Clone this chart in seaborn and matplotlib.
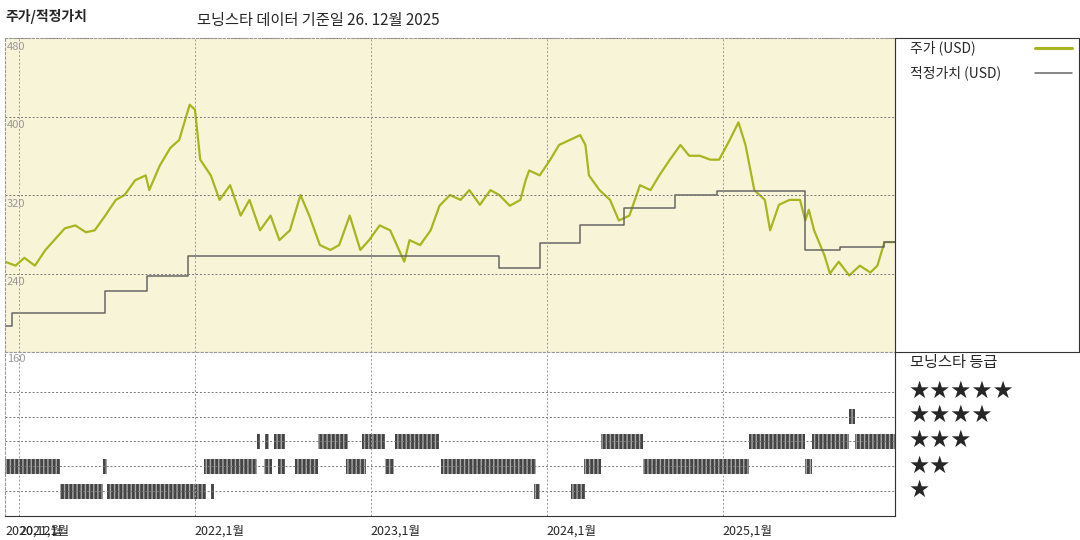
import numpy as np
import pandas as pd
import seaborn as sns
import matplotlib.pyplot as plt
from matplotlib.lines import Line2D

sns.set_style('white')
plt.rcParams['font.family'] = ['Noto Sans CJK KR', 'DejaVu Sans']

# price (USD), time as decimal year
price_t = [2020.92, 2020.98, 2021.03, 2021.09, 2021.15, 2021.20, 2021.26, 2021.32, 2021.38, 2021.43,
           2021.49, 2021.55, 2021.60, 2021.66, 2021.72, 2021.74, 2021.80, 2021.86, 2021.91, 2021.97,
           2022.00, 2022.03, 2022.09, 2022.14, 2022.20, 2022.26, 2022.31, 2022.37, 2022.43, 2022.48,
           2022.54, 2022.60, 2022.65, 2022.71, 2022.77, 2022.82, 2022.88, 2022.94, 2022.99, 2023.05,
           2023.11, 2023.16, 2023.19, 2023.22, 2023.28, 2023.34, 2023.39, 2023.45, 2023.51, 2023.56,
           2023.62, 2023.68, 2023.73, 2023.79, 2023.85, 2023.88, 2023.90, 2023.96, 2024.02, 2024.07,
           2024.13, 2024.19, 2024.22, 2024.24, 2024.30, 2024.36, 2024.41, 2024.47, 2024.53, 2024.59,
           2024.64, 2024.70, 2024.76, 2024.81, 2024.87, 2024.93, 2024.98, 2025.04, 2025.09, 2025.13,
           2025.18, 2025.24, 2025.27, 2025.32, 2025.38, 2025.44, 2025.47, 2025.49, 2025.52, 2025.58,
           2025.61, 2025.66, 2025.72, 2025.78, 2025.84, 2025.88, 2025.92, 2025.98]
price = [252, 248, 256, 248, 264, 274, 286, 289, 282, 284,
         299, 315, 320, 335, 340, 325, 350, 368, 376, 412,
         407, 356, 340, 315, 330, 299, 315, 284, 299, 274,
         284, 320, 299, 269, 264, 269, 299, 264, 274, 289,
         284, 264, 252, 274, 269, 284, 309, 320, 315, 325,
         310, 325, 320, 309, 315, 335, 345, 340, 356, 371,
         376, 381, 371, 340, 325, 315, 294, 299, 330, 325,
         340, 356, 371, 360, 360, 356, 356, 376, 394, 371,
         325, 315, 284, 310, 315, 315, 294, 305, 284, 258,
         240, 252, 238, 248, 241, 248, 272, 272]

# fair value steps
fv_t = [2020.92, 2020.96, 2021.49, 2021.73, 2021.96, 2023.73, 2023.96, 2024.19, 2024.44,
        2024.73, 2024.97, 2025.47, 2025.67, 2025.92, 2025.98]
fv = [186, 200, 222, 237, 258, 246, 271, 289, 307, 320, 324, 264, 267, 272, 272]

# morningstar rating periods (start, end) per star level
rating_periods = {
    1: [(2021.23, 2021.48), (2021.50, 2022.06), (2022.09, 2022.11), (2023.93, 2023.96), (2024.14, 2024.22)],
    2: [(2020.92, 2021.23), (2021.48, 2021.50), (2022.05, 2022.35), (2022.39, 2022.44), (2022.47, 2022.51),
        (2022.57, 2022.70), (2022.86, 2022.97), (2023.08, 2023.13), (2023.40, 2023.94), (2024.21, 2024.31),
        (2024.55, 2025.15), (2025.47, 2025.51)],
    3: [(2022.35, 2022.37), (2022.40, 2022.42), (2022.45, 2022.51), (2022.70, 2022.87), (2022.95, 2023.08),
        (2023.14, 2023.39), (2024.31, 2024.55), (2025.15, 2025.47), (2025.51, 2025.72), (2025.75, 2025.98)],
    4: [(2025.72, 2025.75)],
}
year_ticks = [2021, 2022, 2023, 2024, 2025]
tick_labels = ['2021,1월', '2022,1월', '2023,1월', '2024,1월', '2025,1월']
price_ticks = [480, 400, 320, 240]

W, H = 1080, 540
fig = plt.figure(figsize=(10.8, 5.4), dpi=100)
x0, x1 = 5, 895
ax1 = fig.add_axes([x0 / W, (H - 352) / H, (x1 - x0) / W, 314 / H])
ax2 = fig.add_axes([x0 / W, (H - 516) / H, (x1 - x0) / W, 164 / H])
xlim = (2020.92, 2025.98)

price_df = pd.DataFrame({'t': price_t, 'price': price})
ax1.set_facecolor('#f8f4d8')
sns.lineplot(data=price_df, x='t', y='price', color='#a8b51e', lw=1.6, ax=ax1)
ax1.step(fv_t, fv, where='post', color='#666666', lw=1.1)
ax1.set_xlim(xlim)
ax1.set_ylim(160, 480)
for v in price_ticks:
    ax1.axhline(v, color='#777777', ls=(0, (2, 2)), lw=0.7)
    ax1.text(xlim[0] + 0.01, v - 4, str(v), color='#999999', fontsize=8, va='top')

ax2.set_xlim(xlim)
ax2.set_ylim(0, 6.6)
for s in range(1, 6):
    ax2.axhline(s, color='#777777', ls=(0, (2, 2)), lw=0.7)
for s, periods in rating_periods.items():
    ax2.broken_barh([(a, b - a) for a, b in periods], (s - 0.3, 0.6),
                    facecolors='#444444', edgecolor='#aaaaaa', hatch='||||', lw=0)
ax2.text(xlim[0] + 0.01, 6.5, '160', color='#999999', fontsize=8, va='top')

for ax in (ax1, ax2):
    for y in year_ticks:
        ax.axvline(y, color='#999999', ls=(0, (2, 2)), lw=0.7)
    ax.set_xticks([])
    ax.set_yticks([])
    ax.set_xlabel('')
    ax.set_ylabel('')
    for sp in ax.spines.values():
        sp.set_color('#999999')
        sp.set_linewidth(0.8)
        sp.set_linestyle((0, (2, 2)))
ax2.spines['bottom'].set_linestyle('-')
ax2.spines['bottom'].set_color('#333333')

ax2.text(xlim[0], -0.35, '2020,12월', fontsize=9, va='top', transform=ax2.transData)
for y, lab in zip(year_ticks, tick_labels):
    ax2.text(y, -0.35, lab, fontsize=9, va='top')

# right-hand legend panel
fig.add_artist(Line2D([x1 / W, x1 / W], [(H - 38) / H, (H - 516) / H], color='#333333', lw=0.8))
fig.add_artist(Line2D([x1 / W, 1], [(H - 352) / H, (H - 352) / H], color='#333333', lw=0.8))
fig.add_artist(Line2D([x1 / W, 1], [(H - 38) / H, (H - 38) / H], color='#333333', lw=0.8))
fig.add_artist(Line2D([1079 / W, 1079 / W], [(H - 38) / H, (H - 352) / H], color='#333333', lw=0.8))
fig.text(910 / W, (H - 48) / H, '주가 (USD)', fontsize=10, va='center')
fig.add_artist(Line2D([1035 / W, 1072 / W], [(H - 48) / H] * 2, color='#a8b51e', lw=2.2))
fig.text(910 / W, (H - 73) / H, '적정가치 (USD)', fontsize=10, va='center')
fig.add_artist(Line2D([1035 / W, 1072 / W], [(H - 73) / H] * 2, color='#666666', lw=1.1))
fig.text(910 / W, (H - 363) / H, '모닝스타 등급', fontsize=11, va='center')
for i, y in enumerate([391, 415, 440, 466, 490]):
    fig.text(908 / W, (H - y) / H, '★' * (5 - i), fontsize=17, va='center',
             family=['DejaVu Sans'])

fig.text(5 / W, (H - 16) / H, '주가/적정가치', fontsize=10, fontweight='bold', va='center')
fig.text(197 / W, (H - 20) / H, '모닝스타 데이터 기준일 26. 12월 2025', fontsize=11, va='center')

fig.savefig('out.png', dpi=100)
